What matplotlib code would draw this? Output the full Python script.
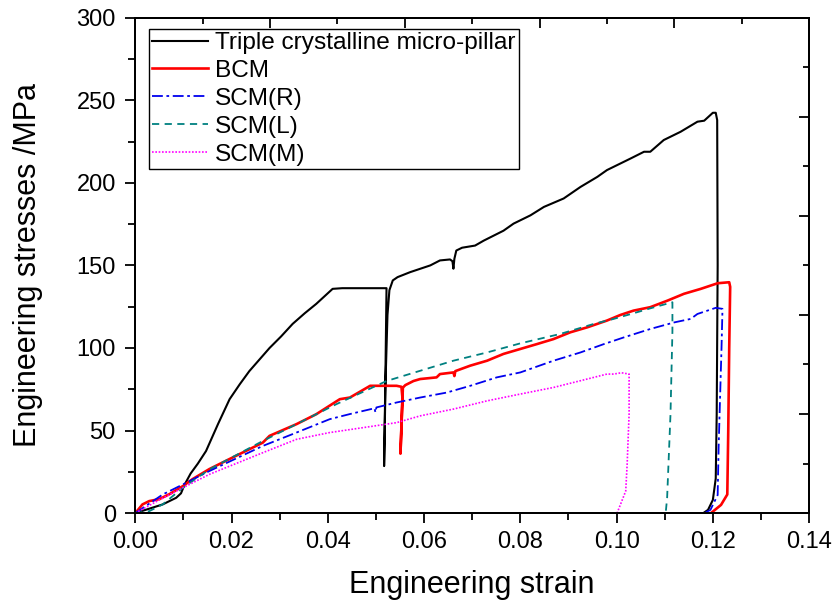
import matplotlib
matplotlib.use("Agg")
import matplotlib.pyplot as plt
from matplotlib.ticker import MultipleLocator, FormatStrFormatter

plt.rcParams['font.family'] = ['Liberation Sans', 'DejaVu Sans']

# ---- data ----
triple_x = [0, 0.0057, 0.0085, 0.0095, 0.0102, 0.0115, 0.013, 0.0147, 0.0172, 0.0196, 0.0217, 0.0237,
            0.0258, 0.0279, 0.0303, 0.0327, 0.0352, 0.0376, 0.041, 0.043, 0.0522, 0.0520, 0.0517,
            0.0520, 0.0524, 0.0528, 0.0535, 0.0545, 0.0571, 0.0613, 0.0633, 0.0654, 0.0659, 0.0661,
            0.0663, 0.0667, 0.0679, 0.0706, 0.0724, 0.0765, 0.0786, 0.0821, 0.0849, 0.089, 0.0925,
            0.096, 0.098, 0.1029, 0.1057, 0.107, 0.1098, 0.1133, 0.1168, 0.1182, 0.12, 0.1206,
            0.1209, 0.121, 0.1208, 0.1206, 0.12, 0.119, 0.118]
triple_y = [0, 5.3, 9.3, 12, 17, 24, 30, 37.6, 54, 69, 78, 86,
            93, 100, 107, 114.6, 121, 126.7, 135.8, 136.2, 136.2, 90, 28.5,
            80, 120, 135, 140.9, 142.9, 145.9, 150, 153, 153.6, 152.5, 148,
            154, 159, 160.7, 162, 165, 171, 175.3, 180.3, 185.4, 190.5, 197.5,
            203.6, 207.7, 214.7, 218.8, 218.8, 225.9, 230.9, 237, 237.6, 242.4, 242.4,
            238, 150, 60, 21, 8, 2, 0]

bcm_x = [0, 0.0015, 0.0029, 0.005, 0.0071, 0.0099, 0.0119, 0.0154, 0.0196, 0.0265, 0.0279, 0.0335,
         0.0376, 0.0425, 0.0446, 0.0488, 0.0543, 0.0553, 0.0555, 0.0551, 0.0554, 0.0556, 0.0561,
         0.0578, 0.0592, 0.0626, 0.0633, 0.0661, 0.0663, 0.0665, 0.0696, 0.0731, 0.0765, 0.08,
         0.0835, 0.0869, 0.0904, 0.0939, 0.098, 0.1008, 0.1035, 0.107, 0.1106, 0.114, 0.1175,
         0.121, 0.1234, 0.1236, 0.1234, 0.1232, 0.123, 0.1217, 0.1196]
bcm_y = [0, 5.3, 7.3, 8.5, 11.5, 16.4, 20.6, 26.7, 32.8, 42.7, 46.8, 53.9,
         59.9, 69, 70, 77.1, 77.1, 76.5, 70, 36, 60, 76, 77.5,
         80, 81.2, 82.2, 84.2, 85.2, 83, 86, 89.3, 92.3, 96.4, 99.4,
         102.4, 105.4, 109.5, 112.5, 116.6, 120, 122.6, 124.7, 128.7, 132.8, 135.8,
         139.2, 139.8, 137, 100, 50, 11.3, 5, 0]

scmr_x = [0, 0.0057, 0.0099, 0.0154, 0.0265, 0.0335, 0.0404, 0.0446, 0.0497, 0.0499, 0.0501, 0.0543,
          0.0592, 0.0647, 0.0696, 0.0751, 0.08, 0.0869, 0.0925, 0.0974, 0.1015, 0.107, 0.112,
          0.1154, 0.1168, 0.1206, 0.122, 0.1218, 0.1212, 0.121, 0.1195, 0.1182]
scmr_y = [0, 11.3, 17.4, 25.5, 40.7, 48.8, 56.9, 60, 63.5, 61, 64, 67,
          70, 73, 77.1, 82.2, 85.2, 92.3, 97.3, 102.4, 106.4, 111.5, 115.5,
          117.6, 120.6, 124.3, 123.7, 100, 40, 11, 2, 0]

scml_x = [0, 0.0029, 0.0057, 0.0099, 0.0154, 0.0265, 0.0335, 0.0418, 0.0522, 0.0592, 0.0661, 0.0731,
          0.08, 0.0883, 0.0953, 0.0994, 0.1035, 0.107, 0.1116, 0.1116, 0.1112, 0.1105, 0.1102]
scml_y = [0, 1.2, 5.3, 15.4, 26.5, 43.7, 53.9, 66, 80, 86.2, 92.3, 97.3,
          102.8, 108.5, 114.6, 117.6, 121, 124, 127.7, 110, 60, 9.3, 0]

scmm_x = [0, 0.005, 0.0099, 0.0154, 0.0265, 0.0335, 0.0404, 0.0474, 0.0543, 0.0592, 0.0661, 0.0731,
          0.08, 0.0869, 0.0939, 0.098, 0.0994, 0.101, 0.1026, 0.1026, 0.1022, 0.1019, 0.1001]
scmm_y = [0, 8, 15.4, 23.5, 36.6, 44.7, 48.8, 51.8, 54.8, 58.9, 63, 68,
          72.1, 76.1, 81.2, 84.2, 84.2, 85, 84.2, 60, 30, 13.4, 0]

labels = ["Triple crystalline micro-pillar", "BCM", "SCM(R)", "SCM(L)", "SCM(M)"]

# ---- figure ----
fig = plt.figure(figsize=(8.35, 6.08), dpi=100)
ax = fig.add_axes([0.162, 0.156, 0.807, 0.815])

ax.plot(triple_x, triple_y, color='black', lw=1.5, label=labels[0])
ax.plot(bcm_x, bcm_y, color='#ff0000', lw=1.9, label=labels[1])
ax.plot(scmr_x, scmr_y, color='#0000ee', lw=1.3, dashes=(6, 2, 1.5, 2), label=labels[2])
ax.plot(scml_x, scml_y, color='#008080', lw=1.3, dashes=(4, 3), label=labels[3])
ax.plot(scmm_x, scmm_y, color='#ff00ff', lw=1.2, dashes=(1, 1), label=labels[4])

ax.set_xlim(0, 0.14)
ax.set_ylim(0, 300)
ax.xaxis.set_major_locator(MultipleLocator(0.02))
ax.xaxis.set_minor_locator(MultipleLocator(0.01))
ax.yaxis.set_major_locator(MultipleLocator(50))
ax.yaxis.set_minor_locator(MultipleLocator(25))
ax.xaxis.set_major_formatter(FormatStrFormatter('%.2f'))
ax.tick_params(which='both', direction='out', top=False, right=False, width=1.3, labelsize=17)
ax.tick_params(which='major', length=7)
ax.tick_params(which='minor', length=5)
ax.tick_params(axis='x', which='major', pad=6)
ax.tick_params(axis='y', which='major', pad=7)
for s in ax.spines.values():
    s.set_linewidth(1.3)

ax.set_xlabel("Engineering strain", fontsize=22, labelpad=12)
ax.set_ylabel("Engineering stresses /MPa", fontsize=22, labelpad=24)

# right axis ticks (inward)
axr = ax.twinx()
axr.set_ylim(0, 300)
axr.yaxis.set_major_locator(MultipleLocator(60))
axr.yaxis.set_minor_locator(MultipleLocator(30))
axr.tick_params(which='both', direction='in', labelright=False, width=1.3)
axr.tick_params(which='major', length=7)
axr.tick_params(which='minor', length=4)
# top axis ticks (inward)
axt = ax.twiny()
axt.set_xlim(0, 0.14)
axt.xaxis.set_major_locator(MultipleLocator(0.028))
axt.xaxis.set_minor_locator(MultipleLocator(0.014))
axt.tick_params(which='both', direction='in', labeltop=False, width=1.3)
axt.tick_params(which='major', length=7)
axt.tick_params(which='minor', length=4)
for a in (axr, axt):
    for s in a.spines.values():
        s.set_linewidth(1.3)

leg = axt.legend(*ax.get_legend_handles_labels(), loc='upper left',
                 bbox_to_anchor=(0.0198, 0.977), borderaxespad=0, fontsize=17.6,
                 frameon=True, fancybox=False, edgecolor='black', framealpha=1,
                 handlelength=2.3, handletextpad=0.3, labelspacing=0.24, borderpad=0.12)
leg.get_frame().set_linewidth(1.0)

fig.savefig("out.png", dpi=100)
